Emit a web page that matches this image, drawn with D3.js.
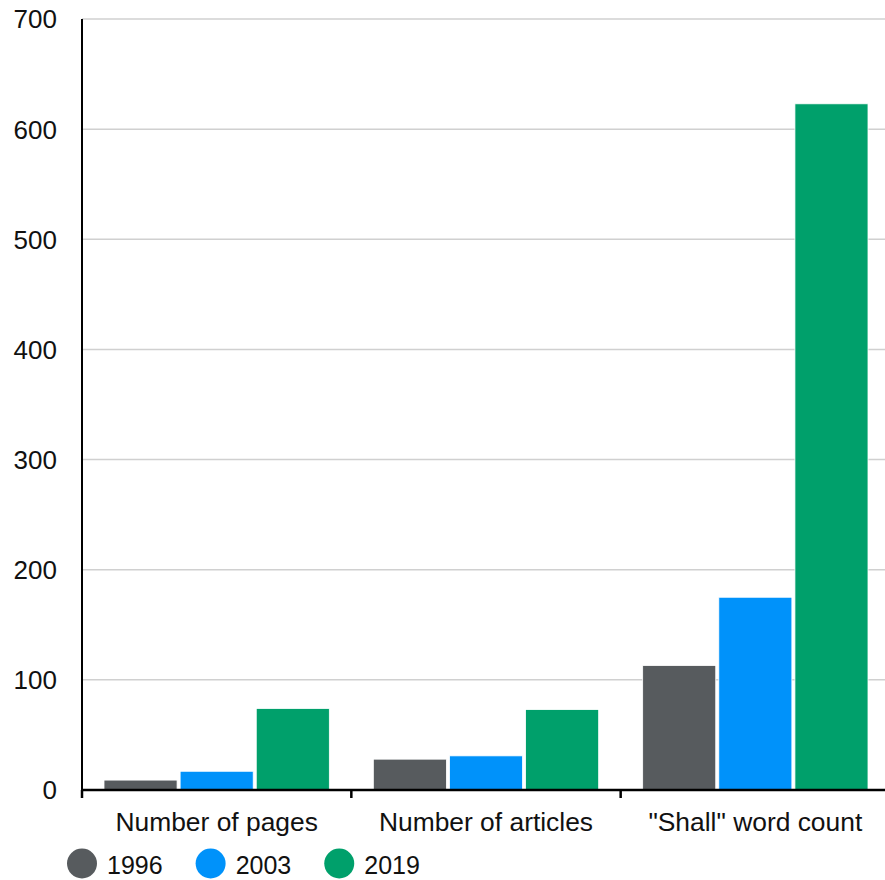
<!DOCTYPE html>
<html>
<head>
<meta charset="utf-8">
<script src="https://cdn.jsdelivr.net/npm/d3@7"></script>
<style>
  body { margin: 0; background: #fff; }
  svg { display: block; font-family: "Liberation Sans", Arial, sans-serif; }
</style>
</head>
<body>
<div id="chart"></div>
<script>
const categories = ['Number of pages', 'Number of articles', '"Shall" word count'];
const years = ['1996', '2003', '2019'];
const values1996 = [9, 28, 113];
const values2003 = [17, 31, 175];
const values2019 = [74, 73, 623];
const yTicks = [0, 100, 200, 300, 400, 500, 600, 700];

const width = 885;
const height = 880;
const margin = {top: 19, right: -5, bottom: 90, left: 82};
const colors = {'1996': '#575b5e', '2003': '#0092fa', '2019': '#00a06b'};

const series = years.map((year, i) => ({
  year,
  values: [values1996, values2003, values2019][i]
}));

const svg = d3.select('#chart').append('svg')
  .attr('width', width)
  .attr('height', height);

const x = d3.scaleBand()
  .domain(categories)
  .range([margin.left, width - margin.right]);

const xSub = d3.scaleBand()
  .domain(years)
  .range([22, x.bandwidth() - 22])
  .paddingInner(0.04)
  .paddingOuter(0);

const y = d3.scaleLinear()
  .domain([0, 700])
  .range([height - margin.bottom, margin.top]);

// gridlines
svg.append('g')
  .selectAll('line')
  .data(yTicks.filter(d => d > 0))
  .join('line')
    .attr('x1', margin.left)
    .attr('x2', width)
    .attr('y1', d => y(d))
    .attr('y2', d => y(d))
    .attr('stroke', '#d0d0d0')
    .attr('stroke-width', 1.5);

// y labels
svg.append('g')
  .selectAll('text')
  .data(yTicks)
  .join('text')
    .attr('x', margin.left - 25)
    .attr('y', d => y(d))
    .attr('dy', '0.36em')
    .attr('text-anchor', 'end')
    .attr('font-size', 26)
    .attr('fill', '#111')
    .text(d => d);

// bars
const groups = svg.append('g')
  .selectAll('g')
  .data(categories)
  .join('g')
    .attr('transform', d => `translate(${x(d)},0)`);

groups.selectAll('rect')
  .data((c, ci) => series.map(s => ({year: s.year, value: s.values[ci]})))
  .join('rect')
    .attr('x', d => xSub(d.year))
    .attr('y', d => y(d.value))
    .attr('width', xSub.bandwidth())
    .attr('height', d => y(0) - y(d.value))
    .attr('fill', d => colors[d.year])
    .attr('stroke', '#fff')
    .attr('stroke-width', 0.8);

// axes lines
svg.append('line')
  .attr('x1', margin.left).attr('x2', margin.left)
  .attr('y1', margin.top).attr('y2', y(0))
  .attr('stroke', '#000').attr('stroke-width', 2);

svg.append('line')
  .attr('x1', margin.left - 1).attr('x2', width)
  .attr('y1', y(0)).attr('y2', y(0))
  .attr('stroke', '#000').attr('stroke-width', 2.5);

// bottom ticks at band edges
svg.append('g')
  .selectAll('line')
  .data(categories)
  .join('line')
    .attr('x1', d => x(d))
    .attr('x2', d => x(d))
    .attr('y1', y(0))
    .attr('y2', y(0) + 8)
    .attr('stroke', '#000')
    .attr('stroke-width', 2.5);

// category labels
svg.append('g')
  .selectAll('text')
  .data(categories)
  .join('text')
    .attr('x', d => x(d) + x.bandwidth() / 2)
    .attr('y', 831)
    .attr('text-anchor', 'middle')
    .attr('font-size', 26.4)
    .attr('fill', '#111')
    .text(d => d);

// legend
const legend = svg.append('g');
let lx = 67;
years.forEach(year => {
  legend.append('circle')
    .attr('cx', lx + 15)
    .attr('cy', 863.5)
    .attr('r', 15)
    .attr('fill', colors[year]);
  const t = legend.append('text')
    .attr('x', lx + 40)
    .attr('y', 874)
    .attr('font-size', 25)
    .attr('fill', '#111')
    .text(year);
  lx += 40 + t.node().getComputedTextLength() + 33;
});
</script>
</body>
</html>
